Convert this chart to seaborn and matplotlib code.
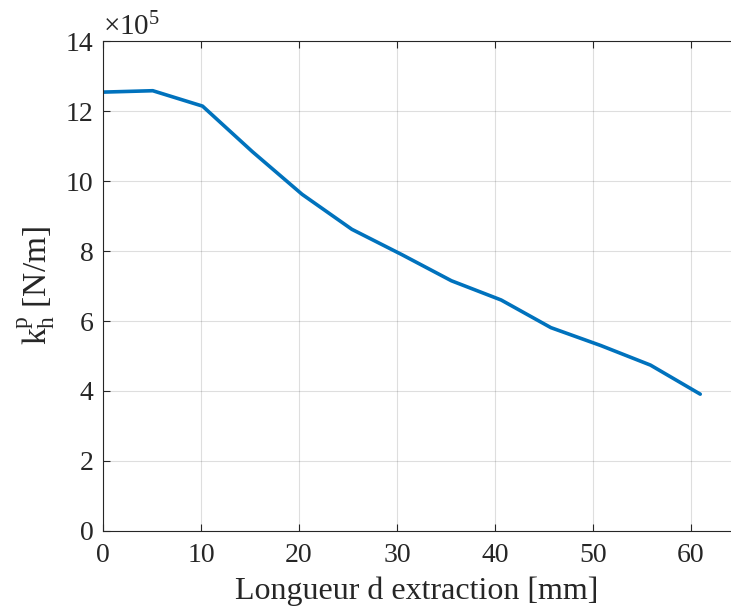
import numpy as np
import pandas as pd
import matplotlib
matplotlib.use("Agg")
import matplotlib.pyplot as plt
import seaborn as sns

# extraction length [mm] and stiffness k_h^p [x1e5 N/m]
longueur = [0, 5.08, 10.16, 15.24, 20.32, 25.4, 30.48, 35.56, 40.64, 45.72, 50.8, 55.88, 60.96]
kh = [12.54, 12.58, 12.14, 10.84, 9.62, 8.62, 7.90, 7.15, 6.60, 5.81, 5.30, 4.74, 3.91]

x_ticks = [0, 10, 20, 30, 40, 50, 60]
y_ticks = [0, 2, 4, 6, 8, 10, 12, 14]

sns.set_style("ticks")
plt.rcParams['font.family'] = ['Liberation Serif', 'DejaVu Serif']
plt.rcParams['mathtext.fontset'] = 'custom'
plt.rcParams['mathtext.rm'] = 'Liberation Serif'
plt.rcParams['mathtext.it'] = 'Liberation Serif:italic'
plt.rcParams['text.color'] = '#262626'
plt.rcParams['axes.labelcolor'] = '#262626'
plt.rcParams['xtick.color'] = '#262626'
plt.rcParams['ytick.color'] = '#262626'

data = pd.DataFrame({'x': longueur, 'y': kh})

fig = plt.figure(figsize=(7.31, 6.15), dpi=100)
ax = fig.add_axes([0.1409, 0.1366, 0.8591, 0.7967])

sns.lineplot(data=data, x='x', y='y', ax=ax, color='#0072BD', linewidth=2.6)

ax.set_xlim(0, 64.1)
ax.set_ylim(0, 14)
ax.set_xticks(x_ticks)
ax.set_yticks(y_ticks)
ax.grid(True, color='#000000', alpha=0.13, linewidth=0.8)
ax.tick_params(direction='in', length=5, width=0.8, labelsize=20, top=True, right=False)
ax.tick_params(axis='x', pad=9)
ax.tick_params(axis='y', pad=7)
for s in ['left', 'bottom', 'top']:
    ax.spines[s].set_linewidth(0.8)
    ax.spines[s].set_color('#262626')
ax.spines['right'].set_visible(False)

ax.set_xlabel('Longueur d extraction [mm]', fontsize=23, labelpad=6)
ax.set_ylabel(r'$\mathrm{k}_{\mathrm{h}}^{\mathrm{p}}$ [N/m]', fontsize=24, labelpad=6)
ax.text(0.0, 1.0, r'$\times 10^5$', transform=ax.transAxes, fontsize=21, ha='left', va='bottom')

fig.savefig('out.png', dpi=100)
